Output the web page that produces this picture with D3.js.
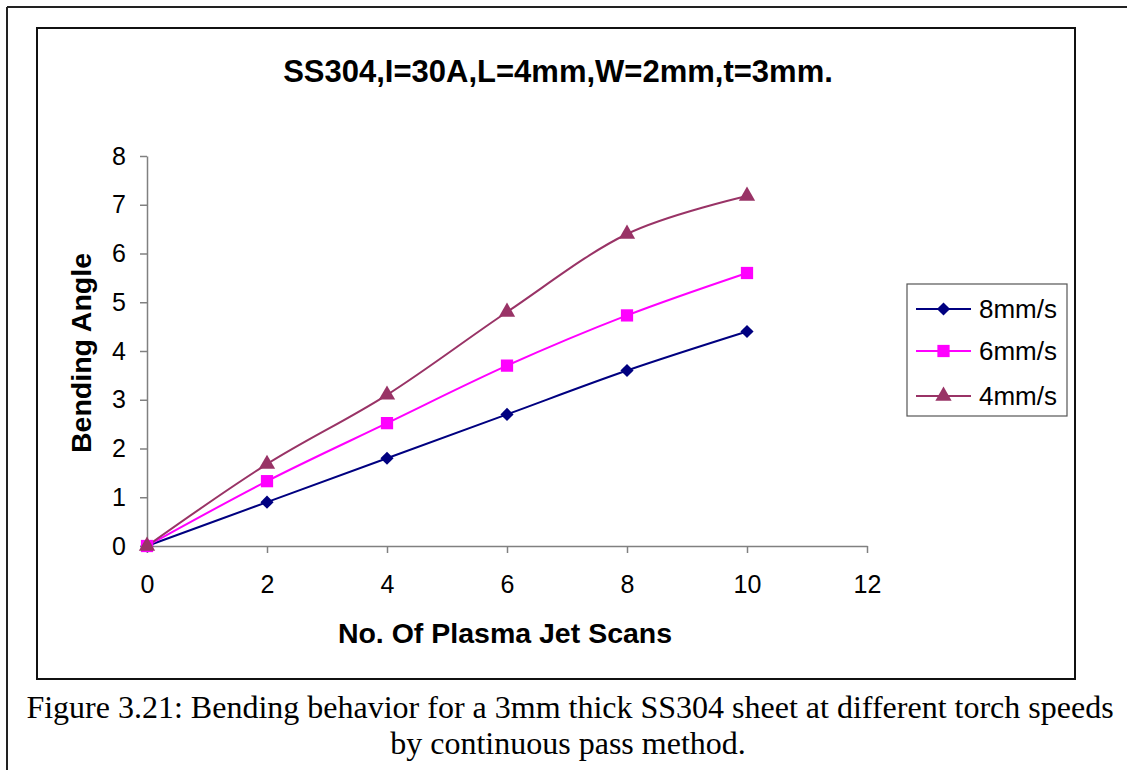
<!DOCTYPE html>
<html><head><meta charset="utf-8">
<script src="https://cdn.jsdelivr.net/npm/d3@7"></script>
<style>body{margin:0;background:#fff}svg{display:block}</style>
</head><body>
<svg id="c" width="1127" height="770"></svg>
<script>
const scans = [0, 2, 4, 6, 8, 10];
const s8 = [0, 0.9, 1.8, 2.7, 3.6, 4.4];
const s6 = [0, 1.33, 2.52, 3.7, 4.73, 5.6];
const s4 = [0, 1.68, 3.1, 4.8, 6.4, 7.18];
const seriesNames = ["8mm/s", "6mm/s", "4mm/s"];
const xTicks = [0, 2, 4, 6, 8, 10, 12];
const yTicks = [0, 1, 2, 3, 4, 5, 6, 7, 8];

const series = [
  {name: seriesNames[0], vals: s8, color: "#000080", sym: d3.symbolDiamond2, size: 110},
  {name: seriesNames[1], vals: s6, color: "#FF00FF", sym: d3.symbolSquare, size: 150},
  {name: seriesNames[2], vals: s4, color: "#993366", sym: d3.symbolTriangle, size: 115}
];
const SANS = "Liberation Sans, Arial, sans-serif";

const svg = d3.select("#c");
// outer frame (top + left visible)
svg.append("line").attr("x1",7).attr("y1",7).attr("x2",1127).attr("y2",7).attr("stroke","#222").attr("stroke-width",2);
svg.append("line").attr("x1",7).attr("y1",7).attr("x2",7).attr("y2",770).attr("stroke","#222").attr("stroke-width",2);
// chart box
svg.append("rect").attr("x",37).attr("y",28).attr("width",1038).attr("height",651)
  .attr("fill","#fff").attr("stroke","#111").attr("stroke-width",2);

const x = d3.scaleLinear().domain([0,12]).range([147,867]);
const y = d3.scaleLinear().domain([0,8]).range([546,156]);

const gx = svg.append("g").attr("transform","translate(0,546)")
  .call(d3.axisBottom(x).tickValues(xTicks).tickSize(7).tickPadding(22).tickSizeOuter(0));
const gy = svg.append("g").attr("transform","translate(147,0)")
  .call(d3.axisLeft(y).tickValues(yTicks).tickSize(7).tickPadding(14).tickSizeOuter(0));
[gx,gy].forEach(g=>{
  g.select(".domain").attr("stroke","#808080").attr("stroke-width",1.5);
  g.selectAll(".tick line").attr("stroke","#808080").attr("stroke-width",1.5);
  g.selectAll(".tick text").attr("font-family",SANS).attr("font-size",25).attr("fill","#000");
});

const line = d3.line().x((d,i)=>x(scans[i])).y(d=>y(d)).curve(d3.curveCatmullRom.alpha(0));
series.forEach(s=>{
  svg.append("path").datum(s.vals).attr("d",line).attr("fill","none").attr("stroke",s.color).attr("stroke-width",2);
});
series.forEach(s=>{
  svg.append("g").selectAll("path").data(s.vals).join("path")
    .attr("transform",(d,i)=>`translate(${x(scans[i])},${y(d)})`)
    .attr("d",d3.symbol().type(s.sym).size(s.size)).attr("fill",s.color);
});

// title
svg.append("text").attr("x",558).attr("y",82).attr("text-anchor","middle")
  .attr("font-family",SANS).attr("font-weight","bold").attr("font-size",31)
  .text("SS304,I=30A,L=4mm,W=2mm,t=3mm.");
// axis titles
svg.append("text").attr("x",505).attr("y",643).attr("text-anchor","middle")
  .attr("font-family",SANS).attr("font-weight","bold").attr("font-size",28.5)
  .text("No. Of Plasma Jet Scans");
svg.append("text").attr("transform","translate(91,353) rotate(-90)").attr("text-anchor","middle")
  .attr("font-family",SANS).attr("font-weight","bold").attr("font-size",28.5)
  .text("Bending Angle");

// legend
const lg = svg.append("g");
lg.append("rect").attr("x",907).attr("y",284).attr("width",160).attr("height",132)
  .attr("fill","#fff").attr("stroke","#555").attr("stroke-width",1.2);
series.forEach((s,i)=>{
  const yy = [309,351,396][i];
  lg.append("line").attr("x1",916).attr("x2",971).attr("y1",yy).attr("y2",yy).attr("stroke",s.color).attr("stroke-width",2);
  lg.append("path").attr("transform",`translate(943.5,${yy})`).attr("d",d3.symbol().type(s.sym).size(s.size)).attr("fill",s.color);
  lg.append("text").attr("x",979).attr("y",yy+9).attr("font-family",SANS).attr("font-size",26).text(s.name);
});

// caption
const cap = svg.append("text").attr("text-anchor","middle").attr("font-family","Liberation Serif, Times New Roman, serif").attr("font-size",32).attr("fill","#000");
cap.append("tspan").attr("x",570).attr("y",718).text("Figure 3.21: Bending behavior for a 3mm thick SS304 sheet at different torch speeds");
cap.append("tspan").attr("x",568).attr("y",754).text("by continuous pass method.");
</script>
</body></html>
